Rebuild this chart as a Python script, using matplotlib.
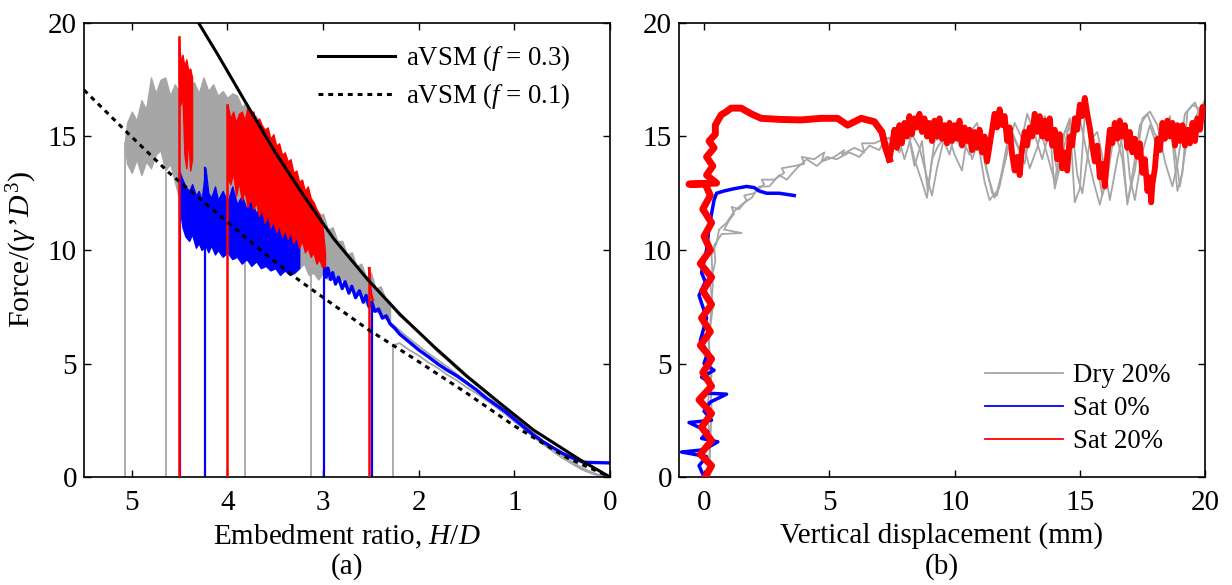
import matplotlib
matplotlib.use("Agg")
import matplotlib.pyplot as plt

plt.rcParams['font.family'] = ['Liberation Serif', 'DejaVu Serif']
plt.rcParams['mathtext.fontset'] = 'custom'
plt.rcParams['mathtext.rm'] = 'Liberation Serif'
plt.rcParams['mathtext.it'] = 'Liberation Serif:italic'
plt.rcParams['mathtext.bf'] = 'Liberation Serif:bold'

FS = 21
FS_LEG = 19.3
GRAY = '#a6a6a6'
BLUE = '#0000ff'
RED = '#ff0000'

# ---------------- panel (a) data ----------------
AVSM03_H = [0.0, 0.31, 0.8, 1.15, 1.49, 1.84, 2.19, 2.53, 2.89, 3.22, 3.5, 3.81, 4.1, 4.33, 4.45]
AVSM03_F = [0.0, 0.75, 2.07, 3.25, 4.42, 5.74, 7.14, 8.68, 10.5, 12.5, 14.3, 16.5, 18.6, 20.2, 21.0]
AVSM01_H = [5.5, 5.03, 4.61, 4.02, 3.6, 3.23, 2.53, 2.08, 1.5, 1.0, 0.45, 0.0]
AVSM01_F = [17.05, 15.1, 13.4, 11.3, 9.8, 8.6, 6.5, 5.3, 3.7, 2.25, 0.85, 0.0]

# Dry 20% : start depths and heights of the initial rise
DRY_START_H = [5.07, 4.64, 3.82, 3.13, 2.27]
DRY_START_F = [14.7, 13.4, 9.5, 9.5, 5.8]
DRY_BAND_H = [5.07, 5.05, 5.00, 4.95, 4.90, 4.85, 4.80, 4.75, 4.70, 4.65, 4.60, 4.55, 4.50,
              4.45, 4.40, 4.35, 4.30, 4.25, 4.20, 4.15, 4.10, 4.05, 4.00, 3.95, 3.90, 3.85,
              3.80, 3.75, 3.70, 3.65, 3.60, 3.55, 3.50, 3.45, 3.40, 3.35, 3.30, 3.25, 3.20,
              3.15, 3.10, 3.05, 3.00, 2.95, 2.90, 2.85, 2.80, 2.75, 2.70, 2.65, 2.60, 2.55,
              2.50, 2.45, 2.40, 2.35, 2.30]
DRY_BAND_HI = [14.9, 15.6, 16.1, 15.7, 16.6, 16.2, 17.6, 16.9, 17.5, 17.6, 16.8, 17.3, 16.9,
               17.5, 17.1, 17.4, 16.9, 17.6, 17.0, 17.3, 16.8, 17.0, 16.7, 16.9, 16.8, 16.3,
               16.5, 16.0, 15.9, 15.3, 15.2, 14.6, 14.6, 14.0, 14.0, 13.4, 13.4, 12.8, 12.7,
               12.1, 12.1, 11.5, 11.6, 10.9, 11.0, 10.4, 10.4, 9.8, 9.9, 9.3, 9.4, 8.8,
               9.0, 8.3, 8.4, 7.9, 7.7]
DRY_BAND_LO = [14.6, 13.8, 13.4, 14.0, 13.3, 13.9, 13.6, 14.2, 14.4, 13.5, 13.8, 13.0, 12.2,
               11.8, 11.6, 11.5, 11.4, 11.2, 11.4, 11.0, 11.0, 10.8, 11.2, 10.6, 10.8, 10.4,
               10.5, 10.2, 10.3, 10.0, 10.1, 9.8, 9.9, 9.5, 9.6, 9.3, 9.5, 9.2, 9.4,
               8.9, 9.0, 8.7, 9.0, 8.7, 8.9, 8.6, 8.7, 8.3, 8.4, 8.0, 8.1, 7.6,
               7.7, 7.3, 7.2, 7.0, 6.9]
DRY_A_H = [2.30, 2.2, 2.1, 2.0, 1.9, 1.8, 1.7, 1.6, 1.5, 1.4, 1.3, 1.2, 1.1, 1.0, 0.9, 0.8,
           0.7, 0.6, 0.5, 0.4, 0.3, 0.2, 0.1, 0.0]
DRY_A_F = [7.6, 7.1, 6.75, 6.35, 5.95, 5.5, 5.15, 4.75, 4.4, 4.05, 3.7, 3.35, 3.0, 2.65, 2.3,
           1.95, 1.6, 1.3, 0.95, 0.68, 0.42, 0.22, 0.07, 0.0]
DRY_B_H = [2.27, 2.2, 2.1, 2.0, 1.9, 1.8, 1.7, 1.6, 1.5, 1.4, 1.3, 1.2, 1.1, 1.0, 0.9, 0.8,
           0.7, 0.6, 0.5, 0.4, 0.3, 0.2, 0.1, 0.0]
DRY_B_F = [5.8, 5.9, 5.6, 5.35, 5.05, 4.8, 4.5, 4.25, 3.95, 3.7, 3.4, 3.1, 2.8, 2.45, 2.15,
           1.8, 1.45, 1.15, 0.85, 0.6, 0.35, 0.17, 0.05, 0.0]
DRY_C_H = [2.35, 2.1, 1.9, 1.7, 1.5, 1.3, 1.1, 0.9, 0.7, 0.5, 0.3, 0.15, 0.0]
DRY_C_F = [7.0, 6.1, 5.45, 4.85, 4.2, 3.45, 2.8, 2.1, 1.45, 0.85, 0.35, 0.1, 0.0]

# Sat 0% : start depths / rise heights, noisy band, and final trace
SAT0_START_H = [4.50, 4.23, 2.99, 2.49]
SAT0_START_F = [13.4, 13.6, 9.4, 7.6]
SAT0_BAND_H = [4.50, 4.47, 4.44, 4.40, 4.37, 4.33, 4.30, 4.27, 4.23, 4.20, 4.17, 4.13, 4.10,
               4.05, 4.00, 3.95, 3.90, 3.85, 3.80, 3.75, 3.70, 3.65, 3.60, 3.55, 3.50, 3.45,
               3.40, 3.35, 3.30, 3.25]
SAT0_BAND_HI = [13.4, 13.1, 12.8, 12.6, 12.9, 12.4, 12.6, 12.2, 13.6, 12.5, 12.3, 12.8, 12.2,
                12.6, 12.1, 12.8, 12.0, 12.4, 11.8, 12.2, 11.6, 12.0, 11.5, 11.4, 11.7, 11.0,
                11.3, 10.8, 10.9, 10.5]
SAT0_BAND_LO = [11.9, 11.0, 10.6, 10.4, 10.7, 10.1, 10.3, 10.0, 10.2, 9.9, 10.2, 9.8, 10.0,
                9.7, 9.9, 9.6, 9.7, 9.4, 9.6, 9.3, 9.5, 9.2, 9.3, 9.1, 9.2, 8.9,
                9.1, 8.9, 9.0, 9.2]
SAT0_TAIL_H = [2.99, 2.97, 2.95, 2.92, 2.90, 2.87, 2.84, 2.80, 2.77, 2.73, 2.70, 2.66, 2.62,
               2.58, 2.55, 2.52, 2.49, 2.46, 2.42, 2.38, 2.34, 2.3, 2.25, 2.2, 2.1, 2.0, 1.9,
               1.8, 1.7, 1.6, 1.5, 1.4, 1.3, 1.2, 1.1, 1.0, 0.9, 0.8, 0.7, 0.6, 0.5, 0.4,
               0.32, 0.28, 0.2, 0.1, 0.0]
SAT0_TAIL_F = [9.4, 8.8, 9.2, 8.7, 9.0, 8.5, 8.8, 8.3, 8.6, 8.1, 8.4, 7.9, 8.2, 7.7, 8.0, 7.5,
               7.7, 7.3, 7.4, 7.0, 7.1, 6.75, 6.55, 6.3, 5.95, 5.6, 5.3, 4.98, 4.7, 4.45, 4.15,
               3.85, 3.5, 3.2, 2.9, 2.55, 2.2, 1.85, 1.55, 1.3, 1.05, 0.85, 0.72, 0.65, 0.64,
               0.63, 0.62]

# Sat 20% : start depths / rise heights and noisy bands
SAT20_START_H = [4.51, 4.00, 2.52]
SAT20_START_F = [19.4, 16.4, 9.2]
SAT20_BAND1_H = [4.51, 4.49, 4.47, 4.45, 4.43, 4.41, 4.39, 4.37]
SAT20_BAND1_HI = [19.4, 18.3, 18.6, 18.1, 18.4, 17.9, 18.0, 17.6]
SAT20_BAND1_LO = [17.5, 16.4, 16.8, 14.2, 13.6, 15.0, 13.5, 14.0]
SAT20_BAND2_H = [4.00, 3.97, 3.94, 3.91, 3.88, 3.85, 3.82, 3.79, 3.76, 3.73, 3.70, 3.67, 3.64,
                 3.61, 3.58, 3.55, 3.52, 3.49, 3.46, 3.43, 3.40, 3.37, 3.34, 3.31, 3.28, 3.25,
                 3.22, 3.19, 3.16, 3.13, 3.10, 3.07, 3.04, 3.01, 2.98]
SAT20_BAND2_HI = [16.4, 15.8, 16.1, 15.6, 16.0, 16.1, 15.7, 16.3, 15.9, 16.1, 15.6, 15.8, 15.5,
                  15.3, 15.4, 14.9, 15.1, 14.6, 14.7, 14.2, 14.3, 13.9, 14.0, 13.4, 13.5, 13.0,
                  13.1, 12.6, 12.8, 12.3, 12.1, 11.8, 11.6, 11.2, 9.9]
SAT20_BAND2_LO = [13.2, 12.9, 13.4, 12.4, 13.0, 12.2, 12.6, 11.9, 12.3, 11.8, 12.1, 11.5, 11.8,
                  11.2, 11.6, 11.0, 11.3, 10.8, 11.1, 10.6, 10.9, 10.5, 10.8, 10.3, 10.6, 10.1,
                  10.4, 9.9, 10.1, 9.7, 9.9, 9.4, 9.6, 9.25, 9.3]
SAT20_TAIL_H = [2.52, 2.50, 2.48]
SAT20_TAIL_F = [9.2, 8.1, 7.8]

# ---------------- panel (b) data ----------------
DRY_RISE_X = [0.15, 0.25, 0.12, 0.3, 0.18, 0.35, 0.25, 0.45, 0.4, 0.7, 1.5, 0.8, 1.0, 1.2, 1.1,
              1.4, 1.7, 1.6, 2.0, 2.4, 2.3, 2.8, 3.2, 3.1, 3.6, 4.0, 3.9, 4.4, 4.8, 4.7, 5.2,
              5.6, 5.5, 6.0, 6.4, 6.3, 6.8, 7.2]
DRY_RISE_Y = [0.0, 1.5, 3.0, 4.5, 6.0, 7.5, 8.5, 9.5, 10.2, 10.7, 10.75, 10.9, 11.3, 11.6, 11.9,
              11.8, 12.2, 12.4, 12.5, 12.9, 13.1, 13.1, 13.4, 13.6, 13.7, 13.8, 14.1, 14.0,
              14.3, 13.9, 14.1, 14.4, 14.2, 14.5, 14.3, 14.7, 14.7, 14.9]
DRY_RISE2_X = [0.2, 0.3, 0.2, 0.35, 0.3, 0.5, 0.6, 0.9, 1.2, 1.5, 1.9, 2.2, 2.6, 3.0, 3.3, 3.7,
               4.1, 4.5, 4.9, 5.3, 5.8, 6.2, 6.6, 7.0, 7.2]
DRY_RISE2_Y = [0.0, 3.0, 6.0, 8.5, 9.8, 10.3, 10.9, 11.2, 11.7, 12.0, 12.3, 12.8, 12.8, 13.3,
               13.1, 13.6, 14.0, 13.7, 14.1, 14.0, 14.3, 14.1, 14.6, 14.4, 14.9]
DRY_RUN1_X = [7.2, 7.6, 8.13, 8.4, 8.7, 8.93, 9.1, 9.33, 9.73, 10.0, 10.3, 10.5, 10.9, 11.2,
              11.5, 11.7, 11.9, 12.2, 12.5, 12.8, 13.1, 13.4, 13.7, 14.0, 14.3, 14.6, 14.8,
              15.0, 15.2, 15.6, 15.9, 16.1, 16.4, 16.7, 16.9, 17.2, 17.5, 17.8, 18.1, 18.4,
              18.7, 18.9, 19.2, 19.5, 19.8, 20.0]
DRY_RUN1_Y = [14.9, 15.0, 15.3, 13.7, 14.8, 12.6, 14.0, 14.55, 15.2, 14.2, 13.5, 15.0, 15.6,
              14.0, 12.5, 12.4, 13.5, 15.3, 14.6, 13.8, 15.8, 15.4, 14.2, 13.0, 14.9, 15.8,
              12.1, 12.7, 16.0, 14.3, 12.4, 13.2, 15.3, 14.0, 12.1, 13.5, 15.8, 16.1, 15.5,
              13.9, 12.8, 13.8, 16.0, 16.4, 16.2, 16.6]
DRY_RUN2_X = [7.2, 7.4, 7.7, 8.0, 8.3, 8.6, 8.9, 9.1, 9.3, 9.6, 9.9, 10.2, 10.4, 10.7, 11.0,
              11.3, 11.6, 11.8, 12.1, 12.4, 12.7, 13.0, 13.3, 13.6, 13.9, 14.1, 14.4, 14.7,
              14.9, 15.1, 15.4, 15.7, 16.0, 16.2, 16.5, 16.8, 17.0, 17.2, 17.5, 17.8, 18.1,
              18.4, 18.7, 19.0, 19.3, 19.6, 19.9, 20.0]
DRY_RUN2_Y = [14.9, 14.6, 15.2, 14.0, 15.1, 14.5, 13.2, 12.4, 13.6, 15.0, 15.5, 14.6, 15.3,
              14.0, 14.9, 13.4, 12.3, 12.8, 14.4, 15.6, 14.9, 13.6, 14.5, 15.9, 14.8, 13.4,
              15.2, 15.4, 13.3, 12.5, 14.8, 15.2, 13.6, 12.2, 14.0, 15.5, 13.2, 12.2, 14.3,
              15.5, 14.5, 15.6, 15.2, 12.8, 15.0, 15.8, 16.4, 16.0]
DRY_RUN3_X = [7.2, 7.4, 7.8, 8.1, 8.4, 8.7, 8.9, 9.2, 9.5, 9.8, 10.1, 10.3, 10.6, 10.9, 11.2,
              11.4, 11.7, 12.0, 12.3, 12.6, 12.9, 13.2, 13.5, 13.8, 14.0, 14.3, 14.6, 14.8,
              15.0, 15.3, 15.6, 15.8, 16.1, 16.4, 16.7, 16.9, 17.2, 17.4, 17.7, 18.0, 18.3,
              18.6, 18.9, 19.1, 19.3, 19.6, 19.8, 20.0]
DRY_RUN3_Y = [14.9, 14.9, 14.3, 15.4, 14.0, 13.0, 12.3, 14.8, 15.0, 14.2, 15.6, 14.9, 14.2,
              15.0, 13.0, 12.2, 12.6, 13.8, 15.2, 14.4, 16.0, 15.1, 14.0, 15.3, 12.7, 14.1,
              15.7, 14.9, 15.8, 14.2, 12.8, 12.0, 13.4, 15.6, 14.6, 12.0, 14.0, 15.5, 16.0,
              15.1, 14.8, 15.9, 12.6, 13.4, 16.1, 16.5, 15.9, 16.6]

SAT0_X = [0.0, -0.2, 0.1, -0.9, 0.0, 0.55, -0.1, 0.15, -0.6, 0.3, 0.0, 0.25, 0.9, 0.0, 0.3,
          -0.1, 0.4, 0.0, 0.15, -0.15, 0.1, -0.2, 0.05, -0.1, 0.1, 0.2, 0.3, 0.4, 0.5, 0.8,
          1.2, 1.7, 2.0, 2.2, 2.5, 3.0, 3.6]
SAT0_Y = [0.0, 0.5, 0.9, 1.1, 1.2, 1.55, 1.7, 2.0, 2.4, 2.5, 2.9, 3.3, 3.65, 3.7, 4.1, 4.4, 4.7,
          5.0, 5.5, 6.0, 7.0, 8.0, 8.6, 9.0, 10.0, 11.0, 11.6, 12.2, 12.5, 12.6, 12.7, 12.8,
          12.75, 12.6, 12.5, 12.5, 12.4]

# Sat 20%: initial rise and plateau
SAT20_X = [0.05, 0.3, -0.15, 0.3, -0.1, 0.3, -0.2, 0.3, -0.05, 0.3, -0.15, 0.25, -0.1, 0.3,
           -0.05, 0.3, -0.15, 0.25, 0.0, 0.3, -0.05, 0.25, 0.05, -0.6, 0.5, 0.1, 0.35, 0.1,
           0.4, 0.2, 0.45, 0.45, 0.68, 0.9, 1.08, 1.48, 1.88, 2.28, 3.07, 3.87, 4.67, 5.33,
           5.73, 6.27, 6.8, 7.1, 7.25, 7.4]
SAT20_Y = [0.0, 0.5, 1.0, 1.6, 2.2, 2.8, 3.4, 4.0, 4.6, 5.2, 5.8, 6.4, 7.0, 7.6, 8.2, 8.8, 9.4,
           10.0, 10.6, 11.2, 11.8, 12.4, 12.9, 12.9, 12.95, 13.3, 13.7, 14.1, 14.5, 14.8,
           15.1, 15.5, 15.95, 16.1, 16.25, 16.25, 16.0, 15.8, 15.75, 15.73, 15.8, 15.8,
           15.5, 15.8, 15.65, 15.2, 14.5, 14.0]
# Sat 20%: noisy part
SAT20_NX = [7.4, 7.5, 7.6, 7.7, 7.8, 7.9, 8.0, 8.1, 8.2, 8.3, 8.4, 8.5, 8.6, 8.7, 8.8, 8.9,
            9.0, 9.1, 9.2, 9.3, 9.4, 9.5, 9.6, 9.7, 9.8, 9.9, 10.0, 10.1, 10.2, 10.3, 10.4,
            10.5, 10.6, 10.7, 10.8, 10.9, 11.0, 11.1, 11.2, 11.3, 11.4, 11.5, 11.6, 11.7,
            11.8, 11.9, 12.0, 12.1, 12.2, 12.3, 12.4, 12.5, 12.6, 12.7, 12.8, 12.9, 13.0,
            13.1, 13.2, 13.3, 13.4, 13.5, 13.6, 13.7, 13.8, 13.9, 14.0, 14.1, 14.2, 14.3,
            14.4, 14.5, 14.6, 14.7, 14.8, 14.9, 15.0, 15.1, 15.2, 15.3, 15.4, 15.5, 15.6,
            15.7, 15.8, 15.9, 16.0, 16.1, 16.2, 16.3, 16.4, 16.5, 16.6, 16.7, 16.8, 16.9,
            17.0, 17.1, 17.2, 17.3, 17.4, 17.5, 17.6, 17.7, 17.8, 17.85, 17.9, 18.0, 18.1,
            18.2, 18.3, 18.4, 18.5, 18.6, 18.7, 18.8, 18.9, 19.0, 19.1, 19.2, 19.3, 19.4,
            19.5, 19.6, 19.7, 19.8, 19.9, 20.0]
SAT20_NY = [14.0, 14.6, 15.3, 14.5, 15.5, 14.7, 15.6, 15.0, 15.9, 15.1, 15.8, 15.4, 16.0, 15.2,
            15.8, 15.0, 15.6, 14.8, 15.7, 15.0, 15.8, 14.9, 15.5, 14.7, 15.6, 14.8, 15.5, 14.9,
            15.7, 14.6, 15.4, 14.8, 15.3, 14.4, 15.2, 14.5, 15.3, 14.3, 15.0, 13.9, 14.6, 15.3,
            16.0, 15.4, 16.2, 15.5, 15.9, 14.8, 15.4, 14.2, 13.5, 14.1, 13.3, 14.5, 15.2, 14.6,
            15.4, 15.0, 16.0, 15.2, 15.9, 15.0, 15.7, 14.9, 15.8, 14.6, 15.3, 14.0, 15.1, 13.6,
            14.3, 13.5, 15.0, 14.6, 15.8, 15.3, 16.4, 15.9, 16.7, 16.0, 15.4, 14.6, 13.9, 14.6,
            13.2, 13.8, 12.8, 14.2, 15.3, 14.7, 15.6, 14.9, 15.7, 15.0, 15.5, 14.5, 15.2, 14.3,
            14.9, 14.1, 14.7, 13.4, 14.0, 12.6, 13.2, 12.1, 12.9, 13.6, 14.9, 14.4, 15.6, 14.9,
            15.7, 15.0, 15.6, 14.6, 15.5, 14.8, 15.5, 14.6, 15.3, 14.7, 15.6, 14.8, 15.8, 15.3,
            16.3, 15.9]

LEGEND_A = ['aVSM ($f$ = 0.3)', 'aVSM ($f$ = 0.1)']
LEGEND_B = ['Dry 20%', 'Sat 0%', 'Sat 20%']
Y_TICKS = [0, 5, 10, 15, 20]
XA_TICKS = [5, 4, 3, 2, 1, 0]
XB_TICKS = [0, 5, 10, 15, 20]

# ---------------- figure ----------------
fig = plt.figure(figsize=(12.32, 5.85), dpi=100)
axL = fig.add_axes([84 / 1232, 1 - 477 / 585, 526 / 1232, 454 / 585])
axR = fig.add_axes([679 / 1232, 1 - 477 / 585, 526 / 1232, 454 / 585])

# ----- panel (a) -----
for h0, f0 in zip(DRY_START_H, DRY_START_F):
    axL.plot([h0, h0], [0, f0], color=GRAY, lw=1.3, zorder=1)
axL.fill_between(DRY_BAND_H, DRY_BAND_LO, DRY_BAND_HI, color=GRAY, lw=1.0, zorder=1)
for hh, ff in [(DRY_A_H, DRY_A_F), (DRY_B_H, DRY_B_F), (DRY_C_H, DRY_C_F)]:
    axL.plot(hh, ff, color=GRAY, lw=1.3, zorder=1)

for h0, f0 in zip(SAT0_START_H, SAT0_START_F):
    axL.plot([h0, h0], [0, f0], color=BLUE, lw=1.6, zorder=2)
axL.fill_between(SAT0_BAND_H, SAT0_BAND_LO, SAT0_BAND_HI, color=BLUE, lw=1.0, zorder=2)
axL.plot(SAT0_TAIL_H, SAT0_TAIL_F, color=BLUE, lw=2.4, zorder=2)

for h0, f0 in zip(SAT20_START_H, SAT20_START_F):
    axL.plot([h0, h0], [0, f0], color=RED, lw=1.8, zorder=3)
axL.fill_between(SAT20_BAND1_H, SAT20_BAND1_LO, SAT20_BAND1_HI, color=RED, lw=1.0, zorder=3)
axL.fill_between(SAT20_BAND2_H, SAT20_BAND2_LO, SAT20_BAND2_HI, color=RED, lw=1.0, zorder=3)
axL.plot(SAT20_TAIL_H, SAT20_TAIL_F, color=RED, lw=1.8, zorder=3)

l1, = axL.plot(AVSM03_H, AVSM03_F, color='black', lw=2.2, zorder=5)
l2, = axL.plot(AVSM01_H, AVSM01_F, color='black', lw=2.2, zorder=5,
               linestyle=(0, (1.6, 1.6)), dash_capstyle='butt')

axL.set_xlim(5.5, 0)
axL.set_ylim(0, 20)
axL.set_xticks(XA_TICKS)
axL.set_xticklabels([str(t) for t in XA_TICKS])
axL.set_yticks(Y_TICKS)
axL.set_xlabel('Embedment ratio, $H/D$', fontsize=FS, labelpad=5)
axL.set_ylabel('Force/($\\gamma\\,$’$D^3$)', fontsize=21.5, labelpad=6)
axL.text(0.5, -0.198, '(a)', transform=axL.transAxes, ha='center', va='center', fontsize=FS)
axL.legend([l1, l2], LEGEND_A, loc='upper right', frameon=False, fontsize=FS_LEG,
           handlelength=2.9, handletextpad=0.4, labelspacing=0.3,
           borderaxespad=0.0, borderpad=0.0, bbox_to_anchor=(0.925, 0.955))

# ----- panel (b) -----
axR.plot(DRY_RISE_X, DRY_RISE_Y, color=GRAY, lw=1.3, zorder=1)
axR.plot(DRY_RISE2_X, DRY_RISE2_Y, color=GRAY, lw=1.3, zorder=1)
for xx, yy in [(DRY_RUN1_X, DRY_RUN1_Y), (DRY_RUN2_X, DRY_RUN2_Y), (DRY_RUN3_X, DRY_RUN3_Y)]:
    axR.plot(xx, yy, color=GRAY, lw=1.3, zorder=1)
axR.plot(SAT0_X, SAT0_Y, color=BLUE, lw=2.5, zorder=2)
axR.plot(SAT20_X, SAT20_Y, color=RED, lw=5.0, zorder=3)
axR.plot(SAT20_NX, SAT20_NY, color=RED, lw=4.2, zorder=3)

axR.set_xlim(-1, 20)
axR.set_ylim(0, 20)
axR.set_xticks(XB_TICKS)
axR.set_yticks(Y_TICKS)
axR.set_xlabel('Vertical displacement (mm)', fontsize=FS, labelpad=5)
axR.text(0.5, -0.198, '(b)', transform=axR.transAxes, ha='center', va='center', fontsize=FS)
hg, = axR.plot([], [], color=GRAY, lw=1.3)
hb, = axR.plot([], [], color=BLUE, lw=1.3)
hr, = axR.plot([], [], color=RED, lw=1.3)
axR.legend([hg, hb, hr], LEGEND_B, loc='lower right', frameon=False, fontsize=FS_LEG,
           handlelength=2.9, handletextpad=0.4, labelspacing=0.3,
           borderaxespad=0.0, borderpad=0.0, bbox_to_anchor=(0.935, 0.05))

for ax in (axL, axR):
    ax.tick_params(direction='in', top=True, right=True, length=5, width=1.0,
                   labelsize=FS)
    ax.tick_params(axis='x', pad=9)
    ax.tick_params(axis='y', pad=5)
    for s in ax.spines.values():
        s.set_linewidth(1.2)

fig.savefig('out.png', dpi=100)
